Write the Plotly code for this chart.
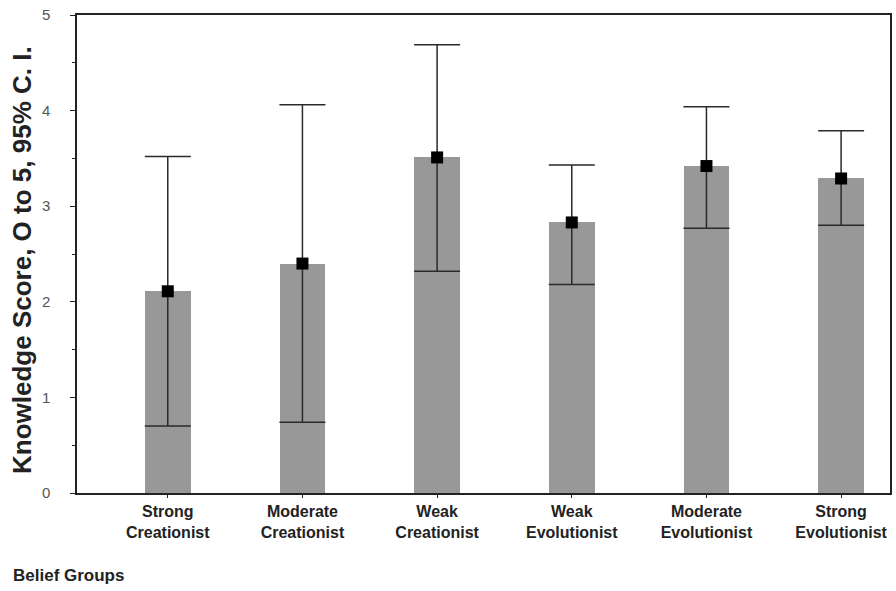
import plotly.graph_objects as go

categories = ["Strong<br>Creationist", "Moderate<br>Creationist", "Weak<br>Creationist",
              "Weak<br>Evolutionist", "Moderate<br>Evolutionist", "Strong<br>Evolutionist"]
means = [2.11, 2.40, 3.51, 2.83, 3.42, 3.29]
upper_ci = [3.52, 4.06, 4.69, 3.43, 4.04, 3.79]
lower_ci = [0.70, 0.74, 2.32, 2.18, 2.77, 2.80]

err_plus = [u - m for u, m in zip(upper_ci, means)]
err_minus = [m - l for m, l in zip(means, lower_ci)]

FONT = "Liberation Sans, Arial, sans-serif"

fig = go.Figure()
fig.add_trace(go.Bar(
    x=categories, y=means, width=0.34,
    marker=dict(color="#989898", line=dict(width=0)),
    showlegend=False, hoverinfo="skip",
))
fig.add_trace(go.Scatter(
    x=categories, y=means, mode="markers",
    marker=dict(symbol="square", size=12, color="#000000"),
    error_y=dict(type="data", array=err_plus, arrayminus=err_minus,
                 color="#2a2a2a", thickness=1.5, width=23),
    showlegend=False,
))

fig.update_layout(
    width=896, height=591,
    margin=dict(l=77, r=4, t=15, b=98),
    paper_bgcolor="white", plot_bgcolor="white",
    font=dict(family=FONT, color="#222222"),
    bargap=0,
    xaxis=dict(
        type="category", range=[-0.674, 5.363],
        tickvals=categories, ticktext=["<b>" + c + "</b>" for c in categories],
        showline=True, linecolor="#222222", linewidth=1.5, mirror=True,
        ticks="outside", ticklen=3, tickcolor="#222222",
        tickfont=dict(size=16, family=FONT, color="#222222"),
        showgrid=False, zeroline=False,
    ),
    yaxis=dict(
        range=[0, 5], tickvals=[0, 1, 2, 3, 4, 5],
        showline=True, linecolor="#222222", linewidth=1.5, mirror=True,
        ticks="outside", ticklen=5, tickcolor="#222222",
        minor=dict(ticks="outside", ticklen=3, dtick=0.5, tickcolor="#222222"),
        tickfont=dict(size=15, color="#555555"),
        ticklabelstandoff=17,
        showgrid=False, zeroline=False,
    ),
    annotations=[
        dict(text="<b>Knowledge Score, O to 5, 95% C. I.</b>", textangle=-90,
             xref="paper", yref="paper", x=0, y=0.5, xanchor="center", yanchor="middle",
             xshift=-55, yshift=-6, showarrow=False,
             font=dict(size=26, color="#222222")),
        dict(text="<b>Belief Groups</b>", xref="paper", yref="paper",
             x=0, y=0, xanchor="left", yanchor="middle",
             xshift=-66, yshift=-82, showarrow=False,
             font=dict(size=17, color="#222222")),
    ],
)

fig.write_html("out.html", config={"displayModeBar": False},
               post_script="document.body.style.margin='0';")
